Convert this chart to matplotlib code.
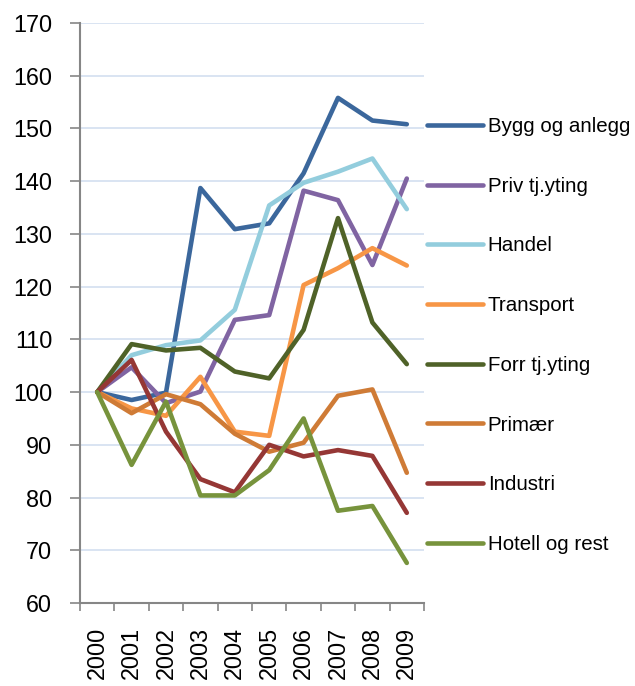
import numpy as np
import matplotlib
matplotlib.use("Agg")
import matplotlib.pyplot as plt

years = ["2000", "2001", "2002", "2003", "2004", "2005", "2006", "2007", "2008", "2009"]

bygg = [100, 98.5, 99.9, 138.7, 130.9, 132.0, 141.5, 155.8, 151.5, 150.8]
priv = [100, 104.7, 97.9, 100.1, 113.7, 114.6, 138.2, 136.4, 124.1, 140.5]
handel = [100, 107.0, 108.9, 109.8, 115.6, 135.4, 139.7, 141.8, 144.3, 134.7]
transport = [100, 96.9, 95.5, 102.9, 92.5, 91.7, 120.3, 123.5, 127.3, 124.0]
forr = [100, 109.1, 107.9, 108.4, 103.9, 102.6, 111.8, 133.0, 113.2, 105.3]
primaer = [100, 96.0, 99.6, 97.7, 92.1, 88.7, 90.4, 99.3, 100.5, 84.7]
industri = [100, 106.1, 92.5, 83.5, 81.0, 90.0, 87.8, 89.0, 87.9, 77.1]
hotell = [100, 86.2, 98.2, 80.4, 80.4, 85.2, 95.0, 77.5, 78.4, 67.6]

series_names = ["Bygg og anlegg", "Priv tj.yting", "Handel", "Transport",
                "Forr tj.yting", "Primær", "Industri", "Hotell og rest"]
series_values = [bygg, priv, handel, transport, forr, primaer, industri, hotell]
series_colors = ["#3b679c", "#8064a2", "#93cddd", "#f79646",
                 "#4f6228", "#cf7b36", "#953735", "#77933c"]

plt.rcParams['font.family'] = ['Liberation Sans', 'DejaVu Sans']

W, H = 635, 686
fig = plt.figure(figsize=(W / 100, H / 100), dpi=100)
ax = fig.add_axes([80 / W, 1 - 603 / H, (424 - 80) / W, (603 - 23) / H])

x = np.arange(len(years))
handles = []
for name, vals, col in zip(series_names, series_values, series_colors):
    ln, = ax.plot(x, vals, color=col, lw=3.3, label=name,
                  solid_capstyle='round', solid_joinstyle='round', zorder=3)
    handles.append(ln)

ax.set_xlim(-0.5, len(years) - 0.5)
ax.set_ylim(60, 170)
ax.set_yticks(np.arange(60, 171, 10))
ax.yaxis.grid(True, color="#d9e4f2", lw=1.4, zorder=0)
ax.set_axisbelow(True)

ax.set_xticks(np.arange(-0.5, len(years), 1.0))
ax.set_xticklabels([])
ax.set_xticks(x, minor=True)
ax.set_xticklabels(years, minor=True, rotation=90, fontsize=16.8)
ax.tick_params(axis='x', which='major', length=6, width=1.2, color="#868686", direction='out')
ax.tick_params(axis='x', which='minor', length=0, pad=17)
ax.tick_params(axis='y', length=7, width=1.2, color="#868686", direction='out',
               labelsize=16.8, pad=13)

for s in ['top', 'right']:
    ax.spines[s].set_visible(False)
for s in ['left', 'bottom']:
    ax.spines[s].set_color("#868686")
    ax.spines[s].set_linewidth(1.5)

leg = fig.legend(handles=handles, loc='center left',
                 bbox_to_anchor=(427 / W, 1 - 335.5 / H),
                 frameon=False, fontsize=14.8, handlelength=2.7,
                 handletextpad=0.25, labelspacing=1.98,
                 borderpad=0, borderaxespad=0)
for l in leg.get_lines():
    l.set_linewidth(3.3)
    l.set_solid_capstyle('round')

fig.savefig("out.png", dpi=100)
